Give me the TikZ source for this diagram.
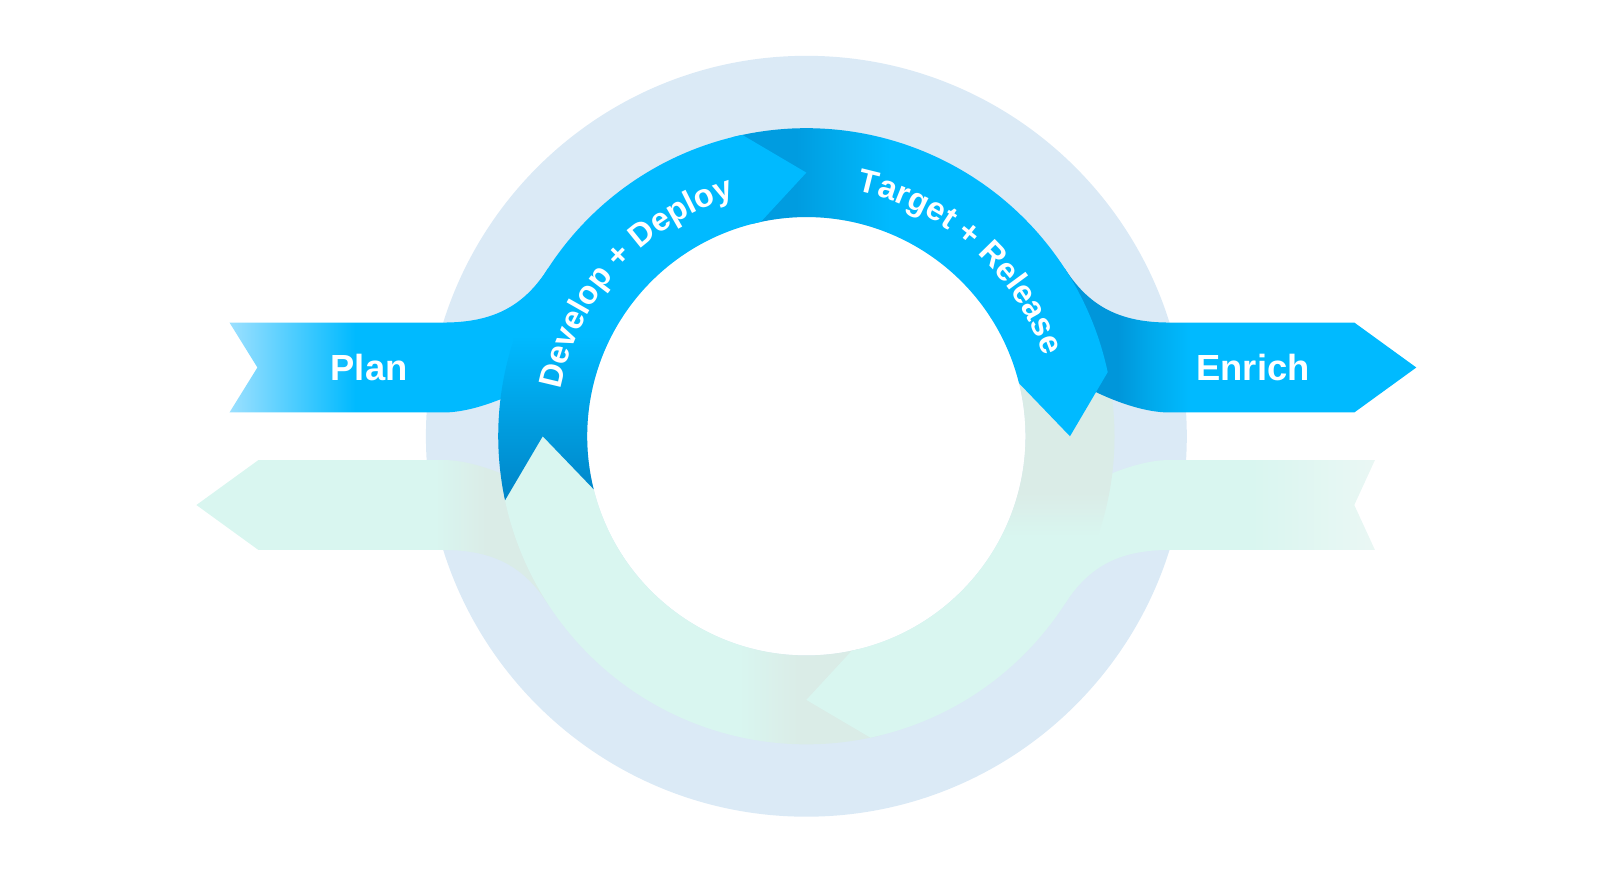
\documentclass[tikz,border=0pt]{standalone}
\usepackage{fontspec}
\setmainfont{Liberation Sans}
\usetikzlibrary{decorations.text}

\definecolor{ringblue}{RGB}{219,234,246}
\definecolor{ribbon}{RGB}{0,186,255}
\definecolor{planlight}{RGB}{156,224,255}
\definecolor{folddark}{RGB}{0,133,200}
\definecolor{foldmid}{RGB}{0,156,222}
\definecolor{foldlight}{RGB}{0,172,240}
\definecolor{tgtdark}{RGB}{0,156,224}
\definecolor{tgtmid}{RGB}{0,170,236}
\definecolor{enrdark}{RGB}{0,150,218}
\definecolor{enrmid}{RGB}{0,170,236}
\definecolor{mint}{RGB}{217,246,240}
\definecolor{mintgrey}{RGB}{218,236,231}
\definecolor{mintfade}{RGB}{234,247,244}

% blue ribbon shadings
\pgfdeclarehorizontalshading{planfade}{100bp}{color(0bp)=(planlight); color(25bp)=(planlight); color(41bp)=(ribbon); color(100bp)=(ribbon)}
\pgfdeclareverticalshading{devfold}{100bp}{color(0bp)=(folddark); color(25bp)=(folddark); color(35bp)=(foldmid); color(41.5bp)=(foldlight); color(47.5bp)=(ribbon); color(100bp)=(ribbon)}
\pgfdeclarehorizontalshading{tgtfade}{100bp}{color(0bp)=(tgtdark); color(25bp)=(tgtdark); color(33.5bp)=(tgtdark); color(39bp)=(tgtmid); color(46bp)=(ribbon); color(100bp)=(ribbon)}
\pgfdeclarehorizontalshading{enrfade}{100bp}{color(0bp)=(enrdark); color(25bp)=(enrdark); color(40bp)=(enrdark); color(44bp)=(enrmid); color(48.5bp)=(ribbon); color(100bp)=(ribbon)}
% mint ribbon shadings
\pgfdeclarehorizontalshading{planfadeM}{100bp}{color(0bp)=(mintfade); color(25bp)=(mintfade); color(41bp)=(mint); color(100bp)=(mint)}
\pgfdeclareverticalshading{devfoldM}{100bp}{color(0bp)=(mintgrey); color(25bp)=(mintgrey); color(41.5bp)=(mintgrey); color(47.5bp)=(mint); color(100bp)=(mint)}
\pgfdeclarehorizontalshading{tgtfadeM}{100bp}{color(0bp)=(mintgrey); color(25bp)=(mintgrey); color(36bp)=(mintgrey); color(44bp)=(mint); color(100bp)=(mint)}
\pgfdeclarehorizontalshading{enrfadeM}{100bp}{color(0bp)=(mintgrey); color(25bp)=(mintgrey); color(41bp)=(mintgrey); color(47bp)=(mint); color(100bp)=(mint)}

% ribbon outlines (#1 = end of the tail, #2 = its notch)
\newcommand{\planshape}[2]{(-#1,1.10) -- (-3.51,1.10) .. controls (-3.0,1.10) and (-2.72,1.28) .. (147:2.98) -- (147:2.12) .. controls (-2.4,0.55) and (-3.1,0.23) .. (-3.51,0.23) -- (-#1,0.23) -- (-#2,0.665) -- cycle}
\newcommand{\enrshape}{(5.30,1.10) -- (3.51,1.10) .. controls (3.0,1.10) and (2.72,1.28) .. (33:2.98) -- (33:2.12) .. controls (2.4,0.55) and (3.1,0.23) .. (3.51,0.23) -- (5.30,0.23) -- (5.90,0.665) -- cycle}
\newcommand{\devshape}{(192:2.98) arc[start angle=192, end angle=102, radius=2.98] -- (90:2.55) -- (102:2.12) arc[start angle=102, end angle=194, radius=2.12] -- (180:2.55) -- cycle}
\newcommand{\tgtshape}{(104:2.98) arc[start angle=104, end angle=12, radius=2.98] -- (0:2.55) -- (14:2.12) arc[start angle=14, end angle=104, radius=2.12] -- cycle}

\begin{document}
\begin{tikzpicture}[
    ribbontext/.style={text=white, font=\fontsize{10}{12}\selectfont\bfseries},
    arclabel/.style={decorate, decoration={text along path, text align=center, text color=white, text={#1}}}
]
    \useasboundingbox (-7.80,-4.30) rectangle (7.88,4.22);
    %ring
    \fill[ringblue, even odd rule] (0,0) circle (3.68) (0,0) circle (2.12);
    %lower ribbon
    \begin{scope}[rotate=180]
        \shade[shading=planfadeM, shading angle=180] \planshape{5.50}{5.30};
        \shade[shading=enrfadeM, shading angle=180] \enrshape;
        \shade[shading=tgtfadeM, shading angle=180] \tgtshape;
        \shade[shading=devfoldM, shading angle=180] \devshape;
    \end{scope}
    %upper ribbon
    \shade[shading=planfade] \planshape{5.58}{5.31};
    \shade[shading=enrfade] \enrshape;
    \shade[shading=tgtfade] \tgtshape;
    \shade[shading=devfold] \devshape;
    %labels
    \node[ribbontext] (plan) at (-4.23,0.665) {Plan};
    \node[ribbontext] (enrich) at (4.32,0.665) {Enrich};
    \path[arclabel={|\fontsize{9}{11}\selectfont\bfseries|Develop + Deploy}] %
         (180:2.42) arc[start angle=180, end angle=96, radius=2.42];
    \path[arclabel={|\fontsize{9}{11}\selectfont\bfseries|Target + Release}] %
         (90.5:2.42) arc[start angle=90.5, end angle=6.5, radius=2.42];
\end{tikzpicture}
\end{document}
